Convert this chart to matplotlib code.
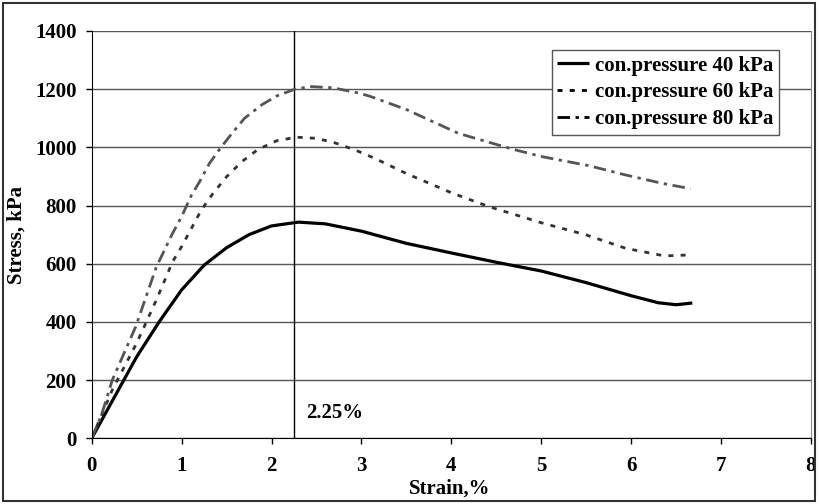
import matplotlib
matplotlib.use("Agg")
import matplotlib.pyplot as plt
from matplotlib.patches import Rectangle

plt.rcParams['font.family'] = ['Liberation Serif', 'DejaVu Serif']
plt.rcParams['font.weight'] = 'bold'

strain_40 = [0, 0.25, 0.5, 0.75, 1.0, 1.25, 1.5, 1.75, 2.0, 2.3, 2.6, 3.0, 3.5, 4.0, 4.5, 5.0, 5.5, 6.0, 6.3, 6.5, 6.68]
stress_40 = [0, 140, 280, 400, 510, 595, 655, 700, 730, 743, 737, 712, 670, 637, 605, 575, 535, 490, 466, 459, 465]

strain_60 = [0, 0.23, 0.5, 0.72, 0.9, 1.0, 1.11, 1.22, 1.35, 1.5, 1.67, 1.85, 2.06, 2.28, 2.5, 2.7, 2.93, 3.15, 3.5, 4.0, 4.42, 5.0, 5.5, 5.94, 6.37, 6.64]
stress_60 = [0, 167, 327, 476, 607, 659, 722, 785, 842, 899, 951, 993, 1023, 1035, 1031, 1016, 991, 962, 910, 844, 796, 741, 699, 653, 627, 630]

strain_80 = [0, 0.11, 0.23, 0.49, 0.72, 0.81, 0.89, 1.0, 1.11, 1.2, 1.31, 1.43, 1.56, 1.7, 1.89, 2.06, 2.26, 2.43, 2.68, 2.98, 3.11, 3.5, 4.08, 4.69, 5.01, 5.53, 5.94, 6.35, 6.66]
stress_80 = [0, 81, 201, 384, 590, 647, 699, 762, 836, 882, 945, 997, 1048, 1100, 1146, 1177, 1200, 1209, 1205, 1186, 1174, 1130, 1048, 993, 968, 937, 905, 876, 858]

labels = ['con.pressure 40 kPa', 'con.pressure 60 kPa', 'con.pressure 80 kPa']
x_ticks = [0, 1, 2, 3, 4, 5, 6, 7, 8]
y_ticks = [0, 200, 400, 600, 800, 1000, 1200, 1400]
marker_strain = 2.25

FS = 15

fig = plt.figure(figsize=(8.18, 5.04), dpi=100)
ax = fig.add_axes([0.1121, 0.1304, 0.8793, 0.8081])

ax.plot(strain_40, stress_40, color='black', lw=2.3, label=labels[0], solid_capstyle='butt')
ax.plot(strain_60, stress_60, color='#333333', lw=2.0, dashes=(1.8, 2.6), label=labels[1])
ax.plot(strain_80, stress_80, color='#555555', lw=2.0, dashes=(4.5, 2.0, 1.2, 2.0), label=labels[2])

ax.axvline(marker_strain, color='black', lw=1.0, zorder=1)
ax.text(2.39, 87, f'{marker_strain}%', fontsize=FS, fontweight='bold', va='center', ha='left')

ax.set_xlim(0, 8)
ax.set_ylim(0, 1400)
ax.set_xticks(x_ticks)
ax.set_yticks(y_ticks)
ax.tick_params(labelsize=FS, length=4, width=1, color='black')
ax.tick_params(axis='x', pad=9)
ax.tick_params(axis='y', pad=7)
ax.yaxis.grid(True, color='#555555', lw=1.0)
ax.set_axisbelow(True)
ax.spines['top'].set_visible(False)
ax.spines['right'].set_color('#888888')
ax.spines['left'].set_color('black')
ax.spines['bottom'].set_color('black')

fig.text(450 / 818, 1 - 489 / 504, 'Strain,%', fontsize=FS, fontweight='bold', ha='center', va='center')
ax.set_ylabel('Stress, kPa', fontsize=FS, fontweight='bold', labelpad=6)

leg = ax.legend(loc='upper right', bbox_to_anchor=(0.9555, 0.953), fontsize=15, frameon=True,
                fancybox=False, edgecolor='#555555', framealpha=1, borderaxespad=0,
                handlelength=1.5, handletextpad=0.3, labelspacing=0.32, borderpad=0.27)
leg.get_frame().set_linewidth(1.0)
for h in leg.get_lines():
    h.set_color('black')

fig.patches.append(Rectangle((0.004, 0.006), 0.992, 0.988, transform=fig.transFigure,
                             fill=False, edgecolor='#333333', lw=1.5))

fig.savefig('out.png', dpi=100)
